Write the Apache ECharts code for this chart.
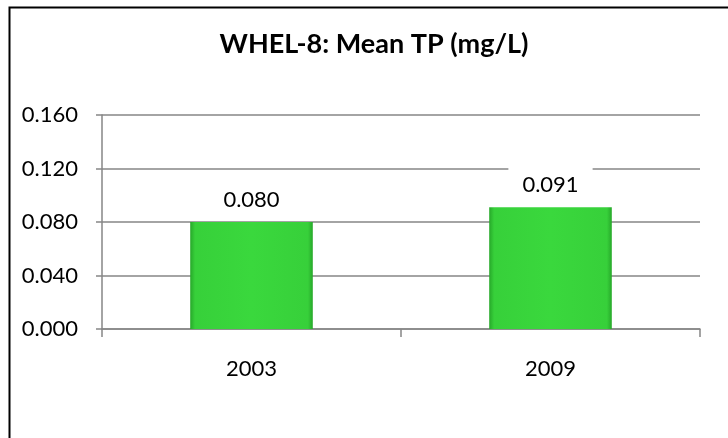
<!DOCTYPE html>
<html>
<head>
<meta charset="utf-8">
<script src="https://cdn.jsdelivr.net/npm/echarts@6/dist/echarts.min.js"></script>
<style>
html,body{margin:0;padding:0;background:#fff;}
#c{width:728px;height:438px;}
</style>
</head>
<body>
<div id="c"></div>
<script>
var titleText = 'WHEL-8: Mean TP (mg/L)';
var categories = ['2003', '2009'];
var meanTP = [0.080, 0.091];
var yMin = 0, yMax = 0.16, yStep = 0.04;

var chart = echarts.init(document.getElementById('c'), null, {renderer: 'canvas'});
var FONT = 'Lato';
chart.setOption({
  animation: false,
  backgroundColor: '#ffffff',
  title: {
    text: titleText,
    left: 369, top: 26, textAlign: 'center',
    textStyle: {fontFamily: FONT, fontWeight: 'bold', fontSize: 27, color: '#000'}
  },
  graphic: [{
    type: 'rect', left: 7, top: 5, silent: true,
    shape: {x: 0, y: 0, width: 800, height: 500},
    style: {fill: 'none', stroke: '#000', lineWidth: 2}
  }],
  grid: {left: 102, right: 28, top: 115, bottom: 109, containLabel: false},
  xAxis: {
    type: 'category', data: categories,
    axisLine: {lineStyle: {color: '#868686', width: 1.5}},
    axisTick: {show: true, length: 8, alignWithLabel: false, lineStyle: {color: '#868686', width: 1.5}},
    axisLabel: {fontFamily: FONT, fontSize: 22, color: '#000', margin: 29}
  },
  yAxis: {
    type: 'value', min: yMin, max: yMax, interval: yStep,
    axisLine: {show: true, lineStyle: {color: '#868686', width: 1.5}},
    axisTick: {show: true, length: 6, lineStyle: {color: '#868686', width: 1.5}},
    splitLine: {lineStyle: {color: '#868686', width: 1.5}},
    axisLabel: {fontFamily: FONT, fontSize: 22, color: '#000', margin: 24,
      formatter: function (v) { return v.toFixed(3); }}
  },
  series: [{
    type: 'bar', data: meanTP, barWidth: '41%', z: 3,
    itemStyle: {
      color: new echarts.graphic.LinearGradient(0, 0, 1, 0, [
        {offset: 0, color: '#27a82a'},
        {offset: 0.04, color: '#37d03a'},
        {offset: 0.5, color: '#3ad83d'},
        {offset: 0.96, color: '#37d03a'},
        {offset: 1, color: '#27a82a'}
      ]),
      borderColor: '#2cb82f', borderWidth: 0
    },
    label: {
      show: true, position: 'top', distance: 2,
      formatter: function (p) { return p.value.toFixed(3); },
      fontFamily: FONT, fontSize: 22, color: '#000',
      backgroundColor: '#fff', padding: [9, 14, 9, 14]
    }
  }]
});
</script>
</body>
</html>
